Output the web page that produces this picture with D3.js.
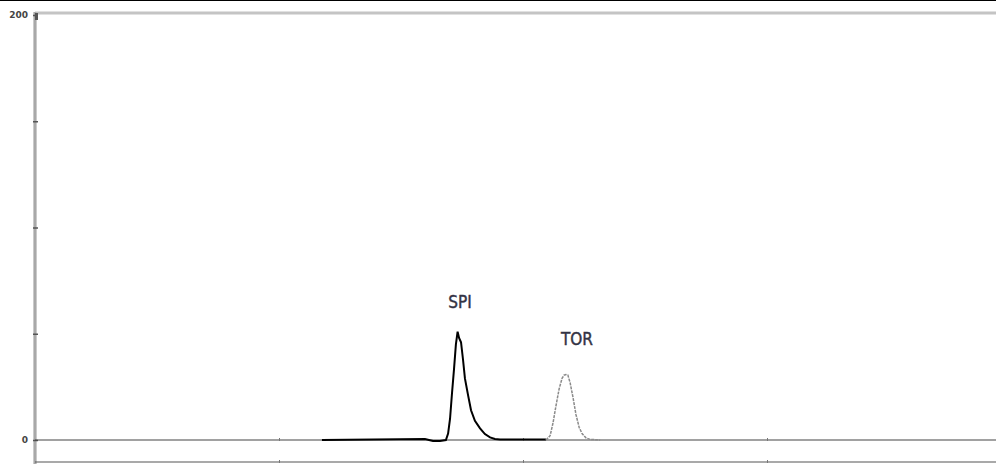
<!DOCTYPE html>
<html>
<head>
<meta charset="utf-8">
<script src="https://cdn.jsdelivr.net/npm/d3@7"></script>
<style>
  body { margin: 0; background: #fff; }
  svg { display: block; }
  text { font-family: "DejaVu Sans", sans-serif; }
</style>
</head>
<body>
<svg id="chromatogram"></svg>
<script>
/** Data (time in min, signal in mAU) **/
var spiTime   = [1.176, 1.496, 1.598, 1.631, 1.660, 1.684, 1.693, 1.701, 1.709, 1.717, 1.725,
                 1.732, 1.738, 1.746, 1.754, 1.762, 1.775, 1.787, 1.803, 1.824, 1.844, 1.865,
                 1.885, 1.906, 1.988, 2.094];
var spiSignal = [0, 0.3, 0.5, -0.5, -0.5, 0, 3, 10, 22, 33, 45,
                 51, 48, 46, 38, 29, 21, 14, 9, 5.5, 2.8, 1.2,
                 0.5, 0.2, 0.2, 0.2];

var torTime   = [2.094, 2.111, 2.123, 2.135, 2.148, 2.160, 2.168, 2.176, 2.184, 2.193,
                 2.205, 2.217, 2.230, 2.242, 2.258, 2.275, 2.316];
var torSignal = [0, 2, 8, 16, 24, 29, 30.5, 30.8, 30.5, 27,
                 20, 12, 6, 3, 1, 0.3, 0];

var peakNames  = ["SPI", "TOR"];
var peakTimes  = [1.742, 2.221];
var peakLabelY = [62, 44.5];

var yTicks = [0, 50, 100, 150, 200];
var yTickLabels = ["0", "", "", "", "200"];
var xTicks = [1, 2, 3];

var width = 996, height = 464;
var plot_left = 35, plot_right = 996;
var plot_top = 15, plot_zero = 440, plot_bottom = 462;

var svg = d3.select("#chromatogram")
    .attr("width", width)
    .attr("height", height);

var xScale = d3.scaleLinear()
    .domain([0, 4])
    .range([plot_left, plot_left + 976]);

var yScale = d3.scaleLinear()
    .domain([0, 200])
    .range([plot_zero, plot_top]);

// Frame lines
svg.append("line")
    .attr("x1", 0).attr("x2", width)
    .attr("y1", 0.5).attr("y2", 0.5)
    .style("stroke", "#000").style("stroke-width", 1);

svg.append("line")
    .attr("x1", plot_left).attr("x2", plot_right)
    .attr("y1", 13).attr("y2", 13)
    .style("stroke", "#c4c4c4").style("stroke-width", 3);

svg.append("line")
    .attr("x1", plot_left).attr("x2", plot_left)
    .attr("y1", 12).attr("y2", height)
    .style("stroke", "#b8b8b8").style("stroke-width", 3.5);

svg.append("line")
    .attr("x1", plot_left).attr("x2", plot_left)
    .attr("y1", 12).attr("y2", height)
    .style("stroke", "#999").style("stroke-width", 1);

svg.append("rect")
    .attr("x", plot_left).attr("y", 13)
    .attr("width", 3).attr("height", 7)
    .style("fill", "#555");

// Y axis
var yAxis = d3.axisLeft(yScale)
    .tickValues(yTicks)
    .tickSize(5)
    .tickPadding(2)
    .tickFormat(function(d, i) { return yTickLabels[i]; });

var gY = svg.append("g")
    .attr("transform", "translate(" + (plot_left + 3) + ",0)")
    .call(yAxis);
gY.select(".domain").remove();
gY.selectAll("line").style("stroke", "#555").style("stroke-width", 1.5);
gY.selectAll("text")
    .attr("dx", -3)
    .style("font-size", "9px")
    .style("font-weight", "bold")
    .style("fill", "#444");

// Zero baseline and bottom axis
svg.append("line")
    .attr("x1", plot_left).attr("x2", plot_right)
    .attr("y1", yScale(0)).attr("y2", yScale(0))
    .style("stroke", "#444").style("stroke-width", 1.2);

svg.append("line")
    .attr("x1", plot_left).attr("x2", plot_right)
    .attr("y1", plot_bottom).attr("y2", plot_bottom)
    .style("stroke", "#555").style("stroke-width", 1.2);

var xAxis = d3.axisBottom(xScale)
    .tickValues(xTicks)
    .tickSize(3)
    .tickFormat("");

[yScale(0) - 2, plot_bottom - 2].forEach(function(yPos) {
    var g = svg.append("g")
        .attr("transform", "translate(0," + yPos + ")")
        .call(xAxis);
    g.select(".domain").remove();
    g.selectAll("line").style("stroke", "#777");
});

// Traces
var line = d3.line()
    .x(function(d) { return xScale(d[0]); })
    .y(function(d) { return yScale(d[1]); });

svg.append("path")
    .datum(d3.zip(spiTime, spiSignal))
    .attr("d", line)
    .style("fill", "none")
    .style("stroke", "#000")
    .style("stroke-width", 2)
    .style("stroke-linejoin", "miter");

svg.append("path")
    .datum(d3.zip(torTime, torSignal))
    .attr("d", line)
    .style("fill", "none")
    .style("stroke", "#8a8a8a")
    .style("stroke-width", 1.5)
    .style("stroke-dasharray", "3,1");

// Peak labels
svg.selectAll(".peakLabel")
    .data(peakNames)
    .enter()
    .append("text")
    .attr("class", "peakLabel")
    .attr("x", function(d, i) { return xScale(peakTimes[i]); })
    .attr("y", function(d, i) { return yScale(peakLabelY[i]); })
    .attr("text-anchor", "middle")
    .style("font-family", "'Liberation Sans Narrow', 'DejaVu Sans Condensed', sans-serif")
    .style("font-size", "17px")
    .style("fill", "#333344")
    .style("stroke", "#333344")
    .style("stroke-width", 0.4)
    .text(function(d) { return d; });
</script>
</body>
</html>
